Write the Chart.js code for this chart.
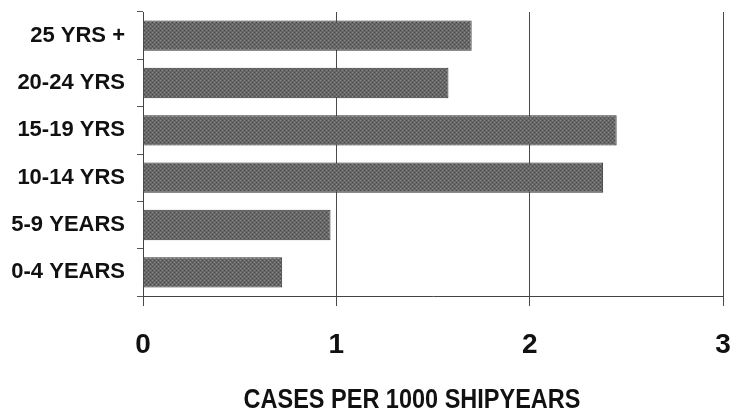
<!DOCTYPE html>
<html>
<head>
<meta charset="utf-8">
<script src="https://cdn.jsdelivr.net/npm/chart.js@4"></script>
<style>
  html, body { margin: 0; padding: 0; background: #fff; }
  #wrap { width: 732px; height: 416px; position: relative; }
</style>
</head>
<body>
<div id="wrap"><canvas id="c" width="732" height="416"></canvas></div>
<script>
const categories = ['25 YRS +', '20-24 YRS', '15-19 YRS', '10-14 YRS', '5-9 YEARS', '0-4 YEARS'];
const cases = [1.70, 1.58, 2.45, 2.38, 0.97, 0.72];
const xTicks = [0, 1, 2, 3];
const axisTitle = 'CASES PER 1000 SHIPYEARS';

// stippled grey fill like the scanned bars
function stipple() {
  const p = document.createElement('canvas');
  p.width = 4; p.height = 4;
  const g = p.getContext('2d');
  g.fillStyle = '#666'; g.fillRect(0, 0, 4, 4);
  g.fillStyle = '#8e8e8e';
  g.fillRect(0, 0, 1, 1); g.fillRect(2, 2, 1, 1);
  g.fillStyle = '#4c4c4c';
  g.fillRect(2, 0, 1, 1); g.fillRect(0, 2, 1, 1);
  return document.getElementById('c').getContext('2d').createPattern(p, 'repeat');
}

// narrow bold title under the axis
const titlePlugin = {
  id: 'narrowTitle',
  afterDraw(ch) {
    const {ctx} = ch;
    ctx.save();
    ctx.font = 'bold 27px "Liberation Sans", Arial, sans-serif';
    ctx.fillStyle = '#111';
    ctx.textAlign = 'center';
    ctx.textBaseline = 'middle';
    ctx.translate(412, 401);
    ctx.scale(0.87, 1);
    ctx.fillText(axisTitle, 0, 0);
    ctx.restore();
  }
};

// keep the plot box where the reference has it (no label overhang padding)
const noPad = s => { s.paddingLeft = 0; s.paddingRight = 0; s.paddingTop = 0; s.paddingBottom = 0; };

new Chart(document.getElementById('c'), {
  type: 'bar',
  data: {
    labels: categories,
    datasets: [{
      data: cases,
      backgroundColor: stipple(),
      borderColor: '#333',
      borderWidth: 1,
      categoryPercentage: 0.64,
      barPercentage: 1.0,
    }]
  },
  options: {
    indexAxis: 'y',
    responsive: false,
    animation: false,
    layout: { padding: { top: 12, right: 9, left: 0, bottom: 0 } },
    plugins: { legend: { display: false }, tooltip: { enabled: false } },
    scales: {
      x: {
        min: 0, max: 3,
        afterBuildTicks: s => { s.ticks = xTicks.map(v => ({ value: v })); },
        afterFit: s => { s.height = 120; noPad(s); },
        grid: { color: '#4a4a4a', lineWidth: 1, tickLength: 10, drawTicks: true },
        border: { color: '#444', width: 1 },
        ticks: { color: '#111', padding: 22, font: { family: '"Liberation Sans", Arial, sans-serif', size: 28, weight: 'bold' } }
      },
      y: {
        afterFit: s => { s.width = 143; noPad(s); },
        grid: { drawOnChartArea: false, color: '#555', tickLength: 6 },
        border: { color: '#444', width: 1 },
        ticks: { color: '#111', padding: 12, font: { family: '"Liberation Sans", Arial, sans-serif', size: 22, weight: 'bold' } }
      }
    }
  },
  plugins: [titlePlugin]
});
</script>
</body>
</html>
